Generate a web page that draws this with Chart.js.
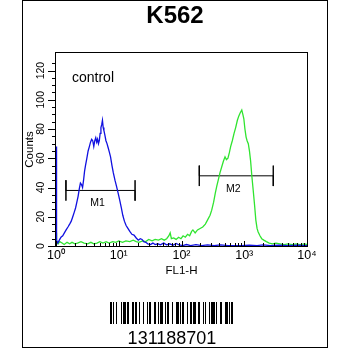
<!DOCTYPE html>
<html>
<head>
<meta charset="utf-8">
<title>K562 FL1-H histogram</title>
<script src="https://cdn.jsdelivr.net/npm/chart.js@4.4.1/dist/chart.umd.min.js"></script>
<style>
  html, body { margin: 0; padding: 0; background: #fff; }
  #wrap { width: 350px; height: 350px; }
</style>
</head>
<body>
<div id="wrap"><canvas id="c" width="350" height="350"></canvas></div>
<script>
const FONT = "'Liberation Sans', Arial, Helvetica, sans-serif";

const sampleName = 'K562';
const controlLabel = 'control';
const sampleCode = '131188701';
const xAxisTitle = 'FL1-H';
const yAxisTitle = 'Counts';

// FL1-H channel and event count, control (blue) histogram
const controlFL1 = [1.00, 1.02, 1.07, 1.13, 1.2, 1.28, 1.36, 1.45, 1.55, 1.65, 1.75, 1.85, 1.95, 2.05, 2.15, 2.25,
  2.35, 2.45, 2.55, 2.65, 2.75, 2.85, 2.95, 3.1, 3.25, 3.4, 3.55, 3.7, 3.85, 4.0, 4.15, 4.3, 4.45, 4.6, 4.75, 4.9,
  5.05, 5.2, 5.35, 5.5, 5.65, 5.8, 6.0, 6.25, 6.5, 6.8, 7.1, 7.4, 7.8, 8.2, 8.7, 9.2, 9.8, 10.4, 11.0, 11.6, 12.3,
  13.1, 14.0, 15.0, 16.2, 17.5, 19.0, 20.5, 22.0, 23.5, 25.0, 27.0, 29.0, 32, 35, 38, 42, 46, 52, 58, 65, 73, 82,
  92, 105, 120, 140, 170, 210, 260, 330, 420, 550, 700, 900, 1200, 1600, 2000, 2600, 3500, 5000, 7000, 10000];
const controlCounts = [68, 4, 2, 4, 6, 7, 9, 11, 13, 15, 17, 20, 23, 26, 30, 34,
  39, 43, 42, 40, 45, 51, 55, 60, 65, 68, 71, 73, 72, 68, 72, 74, 71, 73, 70, 72,
  77, 81, 83, 86, 81, 79, 76, 72, 70, 67, 64, 61, 55, 50, 45, 41, 36, 31, 26, 21, 17,
  14, 12, 10, 8, 7.5, 5.5, 4, 5, 4.5, 3, 2.5, 1.5, 1, 2, 1, 1.5, 0.8, 2, 0.8, 1.5, 0.5, 1.8,
  0.7, 0.3, 1, 0.3, 1, 0.3, 0.8, 0.3, 0.7, 0.3, 0.3, 0.3, 0.6, 0.3, 0.8, 0.3, 0.5, 0.3, 0.5, 0.3];

// FL1-H channel and event count, stained (green) histogram
const stainedFL1 = [1.00, 1.02, 1.08, 1.15, 1.25, 1.35, 1.5, 1.65, 1.8, 2.0, 2.2, 2.5, 2.8, 3.2, 3.6, 4.0, 4.5,
  5.0, 5.6, 6.3, 7.0, 8.0, 9.0, 10, 11.5, 13, 15, 17, 19, 21, 24, 27, 30, 34, 38, 43, 48, 53, 58, 63, 66, 69,
  75, 82, 90, 98, 106, 115, 125, 135, 145, 152, 165, 180, 198, 218, 240, 262, 285, 303, 325, 345, 365, 385,
  410, 437, 465, 494, 520, 550, 580, 607, 645, 688, 730, 777, 820, 860, 913, 950, 985, 1025, 1070, 1110,
  1160, 1210, 1260, 1320, 1390, 1460, 1530, 1600, 1660, 1780, 1900, 2050, 2250, 2500, 2800, 3200, 3700,
  4300, 5000, 5800, 6700, 7800, 9000, 10000];
const stainedCounts = [9, 3, 1.5, 3, 2, 1, 2.5, 1.5, 2.5, 1.5, 2, 3, 2, 1.5, 2.5, 1.5, 2,
  3, 2, 3, 2, 3, 2.5, 3.5, 2.5, 3.5, 3, 4, 3, 2.5, 3.5, 3, 4.5, 3.5, 4.5, 4, 5, 4, 5, 7, 9, 5,
  5.5, 4.5, 6, 5, 7, 6, 8, 7, 10, 11, 9, 11, 12, 13, 15, 18, 21, 24.5, 30, 36, 41, 45,
  50, 54, 58, 61, 59, 60, 64, 68, 72, 77, 81, 86, 89, 91, 93, 90, 87, 80, 74.5, 72,
  70, 65, 58.6, 48, 38, 28, 17.7, 12, 9.8, 7, 5, 4, 3, 2, 1.5, 2, 1.5,
  1, 1.5, 1, 1.5, 1, 1.5, 1];

// Gate markers: FL1-H range and the count level each bar sits at
const markerNames = ['M1', 'M2'];
const markerStart = [1.44, 192];
const markerEnd = [18.2, 2900];
const markerLevel = [38, 48];
const markerTickHalf = 7; // half height of the end ticks, in counts

// Axis ranges and ticks
const xMin = 1, xMax = 10000;
const yMin = 0, yMax = 132;
const yLabelStep = 20;
const yMinorStep = 5;

const SUP = ['\u2070', '\u00B9', '\u00B2', '\u00B3', '\u2074'];

// Barcode module widths (bar, space, bar, ...)
const barcodeModules = [2,1,1,2,1,4, 1,1,3,1,2,3, 2,1,2,2,1,3, 1,3,1,1,2,3, 2,2,1,1,3,2,
  1,1,2,3,1,3, 3,1,1,1,2,3, 1,2,2,1,3,2, 2,3,1,1,1,3, 1,1,4,1,1,3, 2,3,3,1,1,1,2];

function toPoints(xs, ys) { return xs.map((v, i) => ({ x: v, y: ys[i] })); }

function markerPath(i) {
  const s = markerStart[i], e = markerEnd[i], l = markerLevel[i], h = markerTickHalf;
  return [
    { x: s, y: l + h }, { x: s, y: l - h }, { x: s, y: l },
    { x: e, y: l }, { x: e, y: l + h }, { x: e, y: l - h }
  ];
}

function decadeInfo(v) {
  const e = Math.floor(Math.log10(v) + 1e-9);
  const m = v / Math.pow(10, e);
  return { e, m };
}

const decor = {
  id: 'decor',
  beforeDraw(chart) {
    const ctx = chart.ctx;
    ctx.save();
    ctx.fillStyle = '#fff';
    ctx.fillRect(0, 0, chart.width, chart.height);
    ctx.restore();
  },
  afterDraw(chart) {
    const { ctx, chartArea: a, scales: { x, y } } = chart;
    ctx.save();
    ctx.strokeStyle = '#000';
    ctx.lineWidth = 1;

    // outer panel frame
    ctx.strokeRect(22.5, 0.5, 305, 347);

    // plot frame
    ctx.strokeRect(a.left - 0.5, a.top - 0.5, a.right - a.left + 1, a.bottom - a.top + 1);

    // y tick marks, outside the frame
    ctx.beginPath();
    y.ticks.forEach(t => {
      if (t.value % yMinorStep !== 0) return;
      const py = Math.round(y.getPixelForValue(t.value)) + 0.5;
      const len = t.value % yLabelStep === 0 ? 8 : 4;
      ctx.moveTo(a.left - len, py);
      ctx.lineTo(a.left, py);
    });
    ctx.stroke();

    // x tick marks, inside the frame
    ctx.beginPath();
    x.ticks.forEach(t => {
      const { m } = decadeInfo(t.value);
      if (Math.abs(m - Math.round(m)) > 1e-6) return;
      const px = Math.round(x.getPixelForValue(t.value)) + 0.5;
      const len = Math.round(m) === 1 ? 5 : 3;
      ctx.moveTo(px, a.bottom);
      ctx.lineTo(px, a.bottom - len);
    });
    ctx.stroke();

    ctx.fillStyle = '#000';
    // sample title
    ctx.font = 'bold 24px ' + FONT;
    ctx.textAlign = 'center';
    ctx.textBaseline = 'middle';
    ctx.fillText(sampleName, 175, 16);

    // control caption
    ctx.font = '14px ' + FONT;
    ctx.textAlign = 'left';
    ctx.fillText(controlLabel, a.left + 16, a.top + 25);

    // marker names under each gate bar
    ctx.font = '10.5px ' + FONT;
    ctx.textAlign = 'center';
    markerNames.forEach((name, i) => {
      const mid = Math.sqrt(markerStart[i] * markerEnd[i]);
      const px = x.getPixelForValue(mid) - 3;
      const py = y.getPixelForValue(markerLevel[i]) + 13;
      ctx.fillText(name, px, py);
    });

    // barcode
    let bx = 110;
    const by = 302, bh = 22;
    barcodeModules.forEach((w, i) => {
      if (i % 2 === 0) ctx.fillRect(bx, by, w, bh);
      bx += w;
    });
    ctx.font = '18px ' + FONT;
    ctx.textAlign = 'center';
    ctx.textBaseline = 'alphabetic';
    ctx.fillText(sampleCode, 172, 344);

    ctx.restore();
  }
};

new Chart(document.getElementById('c'), {
  type: 'scatter',
  data: {
    datasets: [
      {
        label: 'control',
        data: toPoints(controlFL1, controlCounts),
        showLine: true,
        borderColor: '#1010e0',
        borderWidth: 1.3,
        pointRadius: 0,
        fill: false,
        tension: 0
      },
      {
        label: 'stained',
        data: toPoints(stainedFL1, stainedCounts),
        showLine: true,
        borderColor: '#30e430',
        borderWidth: 1.3,
        pointRadius: 0,
        fill: false,
        tension: 0
      },
      ...markerNames.map((name, i) => ({
        label: name,
        data: markerPath(i),
        showLine: true,
        borderColor: '#000',
        borderWidth: 1,
        pointRadius: 0,
        fill: false,
        tension: 0
      }))
    ]
  },
  options: {
    responsive: false,
    animation: false,
    events: [],
    layout: { padding: { left: 22, right: 43, top: 53, bottom: 72 } },
    plugins: {
      legend: { display: false },
      tooltip: { enabled: false },
      title: { display: false }
    },
    scales: {
      x: {
        type: 'logarithmic',
        position: 'bottom',
        min: xMin,
        max: xMax,
        grid: { display: false, drawTicks: false },
        border: { display: false },
        ticks: {
          autoSkip: false,
          minRotation: 0,
          maxRotation: 0,
          padding: 2,
          color: '#000',
          font: { family: FONT, size: 12.5 },
          callback: (v) => {
            const { e, m } = decadeInfo(v);
            return Math.abs(m - 1) < 1e-9 ? '10' + SUP[e] : '';
          }
        },
        title: {
          display: true,
          text: xAxisTitle,
          color: '#000',
          font: { family: FONT, size: 11.5 },
          padding: { top: 0, bottom: 0 }
        },
        afterFit: (s) => { s.height = 32; }
      },
      y: {
        min: yMin,
        max: yMax,
        grid: { display: false, drawTicks: false },
        border: { display: false },
        ticks: {
          stepSize: yMinorStep,
          autoSkip: false,
          minRotation: 90,
          maxRotation: 90,
          crossAlign: 'center',
          padding: 6,
          color: '#000',
          font: { family: FONT, size: 10.5 },
          callback: (v) => (v % yLabelStep === 0 ? String(v) : '')
        },
        title: {
          display: true,
          text: yAxisTitle,
          color: '#000',
          font: { family: FONT, size: 11.5 },
          padding: { top: 1, bottom: 0 }
        },
        afterFit: (s) => { s.width = 34; }
      }
    }
  },
  plugins: [decor]
});
</script>
</body>
</html>
